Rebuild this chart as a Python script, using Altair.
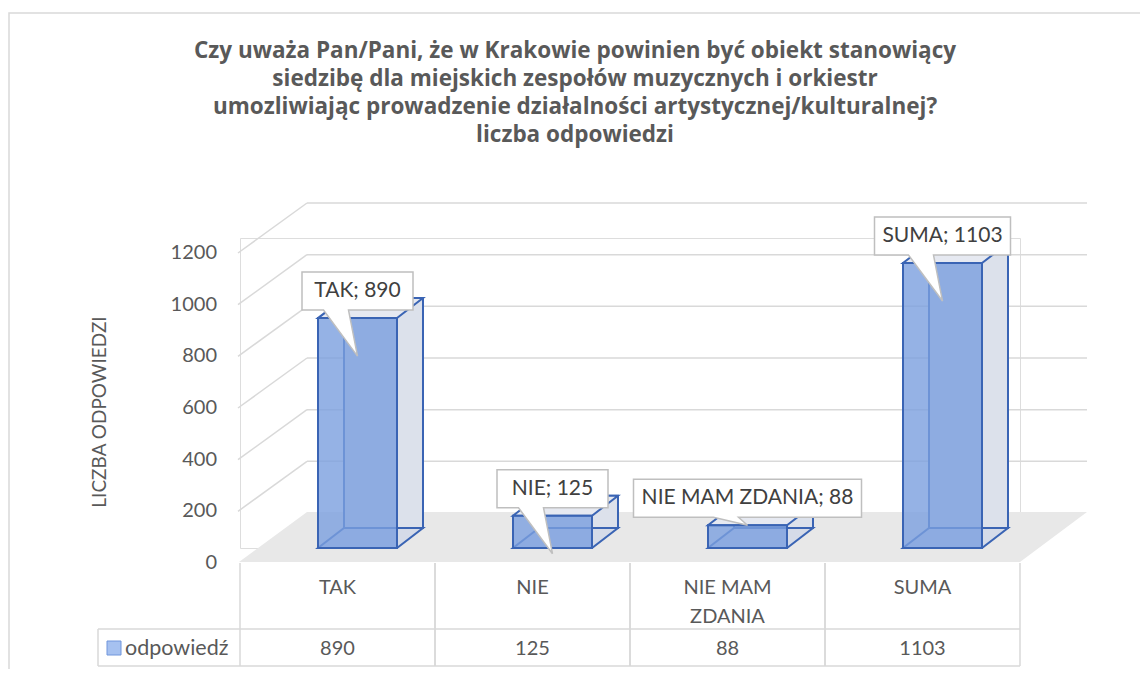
import altair as alt
import pandas as pd

# ---------------- data ----------------
categories = ["TAK", "NIE", "NIE MAM ZDANIA", "SUMA"]
values = [890, 125, 88, 1103]
table_labels = ["TAK", "NIE", "NIE MAM\nZDANIA", "SUMA"]
y_ticks = [0, 200, 400, 600, 800, 1000, 1200]
series_name = "odpowiedź"
axis_title = "LICZBA ODPOWIEDZI"
title_lines = [
    "Czy uważa Pan/Pani, że w Krakowie powinien być obiekt stanowiący",
    "siedzibę dla miejskich zespołów muzycznych i orkiestr",
    "umozliwiając prowadzenie działalności artystycznej/kulturalnej?",
    "liczba odpowiedzi",
]

df = pd.DataFrame({"cat": categories, "value": values, "tlabel": table_labels})
ticks_df = pd.DataFrame({"v": y_ticks})
grid_df = pd.DataFrame({"v": [t for t in y_ticks if t > 0]})
one = alt.Data(values=[{}])

FONT = "Lato"
TXT = "#595959"
GRID = "#d9d9d9"
EDGE = "#3a64b4"

W, H = 780, 310
xs = alt.Scale(domain=categories, paddingInner=0.5949, paddingOuter=0.29745)
ys = alt.Scale(domain=[0, 1200], nice=False, zero=True)
X = alt.X("cat:N", scale=xs, axis=None, sort=categories)
Y = alt.Y("value:Q", scale=ys, axis=None)

base = alt.Chart(df)

# outer chart border
border = alt.Chart(one).mark_rect(fillOpacity=0, stroke=GRID, strokeWidth=1.5).encode(
    x=alt.value(-231), y=alt.value(-225), x2=alt.value(1000), y2=alt.value(1000))

# floor (3D base plane)
floor = alt.Chart(one).mark_point(
    shape="M -424 25 L 357 25 L 424 -25 L -356 -25 Z", size=4, filled=True,
    fill="#e8e8e8", strokeWidth=0, opacity=1).encode(x=alt.value(423), y=alt.value(299))

# back wall gridlines
grid_h = alt.Chart(grid_df).mark_rule(color=GRID, strokeWidth=1.5, yOffset=-35, y2Offset=-35).encode(
    y=alt.Y("v:Q", scale=ys, axis=None), x=alt.value(67), x2=alt.value(847))
grid_d = alt.Chart(grid_df).mark_rule(color=GRID, strokeWidth=1.5, yOffset=15, y2Offset=-35).encode(
    y=alt.Y("v:Q", scale=ys, axis=None), y2="v:Q", x=alt.value(-2), x2=alt.value(67))

# y tick labels
tick_txt = alt.Chart(ticks_df).mark_text(
    align="right", baseline="middle", fontSize=20, font=FONT, color=TXT, yOffset=15).encode(
    y=alt.Y("v:Q", scale=ys, axis=None), x=alt.value(-23), text="v:Q")

y_title = alt.Chart(one).mark_text(
    angle=270, align="center", baseline="middle", fontSize=19, font=FONT, color=TXT).encode(
    x=alt.value(-140), y=alt.value(174), text=alt.value(axis_title))

title = alt.Chart(one).mark_text(
    align="center", baseline="alphabetic", fontSize=22.5, font="Open Sans", fontWeight="bold",
    color=TXT, lineBreak="\n", lineHeight=28).encode(
    x=alt.value(335), y=alt.value(-180), text=alt.value("\n".join(title_lines)))

# 3D columns
FACE = "M -39.5 0 L 39.5 0 L 65.5 -20 L -13.5 -20 Z"
back = base.mark_bar(xOffset=46, yOffset=-20, y2Offset=-20, fill="#dce1eb",
                     stroke=EDGE, strokeWidth=2).encode(x=X, y=Y, y2=alt.Y2Datum(0))
bottom = base.mark_point(shape=FACE, size=4, filled=True, fill="#d5dbe8", stroke=EDGE,
                         strokeWidth=2, opacity=1, xOffset=20).encode(
    x=X, y=alt.YDatum(0, scale=ys, axis=None))
top = base.mark_point(shape=FACE, size=4, filled=True, fill="#e6e9f1", stroke=EDGE,
                      strokeWidth=2, opacity=1, xOffset=20).encode(x=X, y=Y)
front = base.mark_bar(xOffset=20, fill="#7a9fdf", fillOpacity=0.8, stroke=EDGE,
                      strokeWidth=2).encode(x=X, y=Y, y2=alt.Y2Datum(0))

# callouts
callout_data = base.transform_calculate(
    label="datum.cat + '; ' + datum.value",
).transform_calculate(
    w="length(datum.label) * 12.5 + 3 + (length(datum.label) < 12 ? 8 : 0)",
    tip="datum.value >= 100 ? 38 : 0",
).transform_calculate(
    path="'M ' + (-datum.w/2) + ' -46 H ' + (datum.w/2) + ' V -8 H -9 L 0 ' + datum.tip + ' L -34 -8 H ' + (-datum.w/2) + ' Z'"
)
callout_box = callout_data.mark_point(size=4, filled=True, fill="white", stroke="#bfbfbf",
                                      strokeWidth=1.5, opacity=1, xOffset=20).encode(
    x=X, y=Y, shape=alt.Shape("path:N", scale=None, legend=None))
callout_txt = callout_data.mark_text(xOffset=20, yOffset=-27, baseline="middle", align="center",
                                     fontSize=21, font=FONT, color="#404040").encode(
    x=X, y=Y, text="label:N")

# data table
t_left = base.mark_rule(color=GRID, strokeWidth=1.5, xOffset=-97.5).encode(
    x=X, y=alt.value(325), y2=alt.value(428))
t_right = base.mark_rule(color=GRID, strokeWidth=1.5, xOffset=97.5).encode(
    x=X, y=alt.value(325), y2=alt.value(428))
t_h1 = alt.Chart(one).mark_rule(color=GRID, strokeWidth=1.5).encode(
    x=alt.value(-142), x2=alt.value(780), y=alt.value(391))
t_h2 = alt.Chart(one).mark_rule(color=GRID, strokeWidth=1.5).encode(
    x=alt.value(-142), x2=alt.value(780), y=alt.value(428))
t_v0 = alt.Chart(one).mark_rule(color=GRID, strokeWidth=1.5).encode(
    x=alt.value(-142), y=alt.value(391), y2=alt.value(428))
cat_txt = base.mark_text(lineBreak="\n", lineHeight=29, baseline="alphabetic", align="center",
                         fontSize=20, font=FONT, color=TXT).encode(
    x=X, y=alt.value(356), text="tlabel:N")
val_txt = base.mark_text(baseline="alphabetic", align="center", fontSize=20, font=FONT,
                         color=TXT).encode(x=X, y=alt.value(417), text="value:Q")
leg_sq = alt.Chart(one).mark_point(shape="square", size=196, filled=True, fill="#a6c1f0",
                                   stroke="#7096dc", strokeWidth=1, opacity=1).encode(
    x=alt.value(-126), y=alt.value(410))
leg_txt = alt.Chart(one).mark_text(align="left", baseline="alphabetic", fontSize=21.5, font=FONT,
                                   color=TXT).encode(
    x=alt.value(-115), y=alt.value(417), text=alt.value(series_name))

chart = alt.layer(
    border, floor, grid_h, grid_d, tick_txt, y_title, title,
    back, bottom, top, front,
    callout_box, callout_txt,
    t_left, t_right, t_h1, t_h2, t_v0, cat_txt, val_txt, leg_sq, leg_txt,
).properties(
    width=W, height=H,
    autosize=alt.AutoSizeParams(type="none"),
    padding={"left": 232, "top": 230, "right": 120, "bottom": 121},
).configure_view(stroke=None).configure(background="white")

chart.save("out.html", embed_options={"renderer": "svg", "actions": False})
